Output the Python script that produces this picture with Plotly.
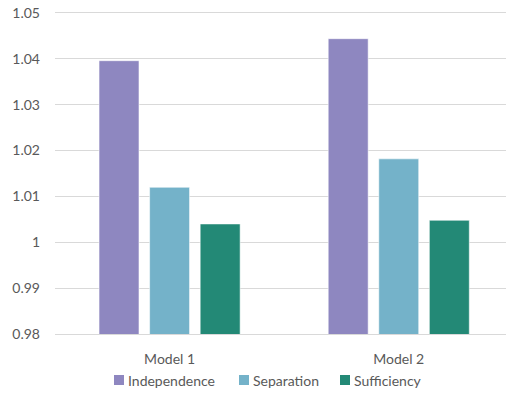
import plotly.graph_objects as go

# Data
models = ["Model 1", "Model 2"]
series_names = ["Independence", "Separation", "Sufficiency"]
independence = [1.0396, 1.0444]
separation = [1.0120, 1.0182]
sufficiency = [1.0040, 1.0048]
y_ticks = [0.98, 0.99, 1.00, 1.01, 1.02, 1.03, 1.04, 1.05]
y_tick_labels = ["0.98", "0.99", "1", "1.01", "1.02", "1.03", "1.04", "1.05"]

colors = ["#8E87C0", "#74B2C9", "#238976"]
values = [independence, separation, sufficiency]

W, H = 506, 398
M_L, M_R, M_T, M_B = 55, 0, 13, 64
FONT = "Lato"
FS = 14
TEXT_COLOR = "#595959"
GRID = "#D9D9D9"

fig = go.Figure()
for name, vals, col in zip(series_names, values, colors):
    fig.add_trace(go.Bar(
        x=models, y=vals, name=name,
        marker=dict(color=col, line=dict(color="rgba(255,255,255,0.55)", width=1)),
        showlegend=False,
    ))

fig.update_layout(
    width=W, height=H,
    margin=dict(l=M_L, r=M_R, t=M_T, b=M_B, pad=0),
    paper_bgcolor="white", plot_bgcolor="white",
    barmode="group", bargap=0.338, bargroupgap=0.21,
    font=dict(family=FONT, size=FS, color=TEXT_COLOR),
    xaxis=dict(
        range=[-0.5, 1.468], showgrid=False, zeroline=False,
        showline=True, linecolor=GRID, linewidth=1, mirror=True,
        ticks="", ticklabelstandoff=12,
        tickfont=dict(family=FONT, size=FS, color=TEXT_COLOR),
    ),
    yaxis=dict(
        range=[0.98, 1.05], tickvals=y_ticks, ticktext=y_tick_labels,
        showgrid=True, gridcolor=GRID, gridwidth=1,
        zeroline=False, showline=False, ticks="", ticklabelstandoff=14,
        tickfont=dict(family=FONT, size=FS, color=TEXT_COLOR),
    ),
)

# Legend drawn below the plot: colored squares followed by labels
plot_w = W - M_L - M_R
plot_h = H - M_T - M_B


def px_x(x):
    return (x - M_L) / plot_w


def px_y(y):
    return (H - M_B - y) / plot_h


legend_items = [
    (series_names[0], colors[0], 114),
    (series_names[1], colors[1], 239),
    (series_names[2], colors[2], 340),
]
leg_y = 380
for name, col, x0 in legend_items:
    fig.add_shape(
        type="rect", xref="paper", yref="paper",
        x0=px_x(x0), x1=px_x(x0 + 10),
        y0=px_y(leg_y + 5), y1=px_y(leg_y - 5),
        fillcolor=col, line=dict(width=0),
    )
    fig.add_annotation(
        xref="paper", yref="paper", x=px_x(x0 + 12), y=px_y(leg_y),
        xanchor="left", yanchor="middle", text=name, showarrow=False,
        font=dict(family=FONT, size=FS, color=TEXT_COLOR),
    )

fig.write_html("out.html")
